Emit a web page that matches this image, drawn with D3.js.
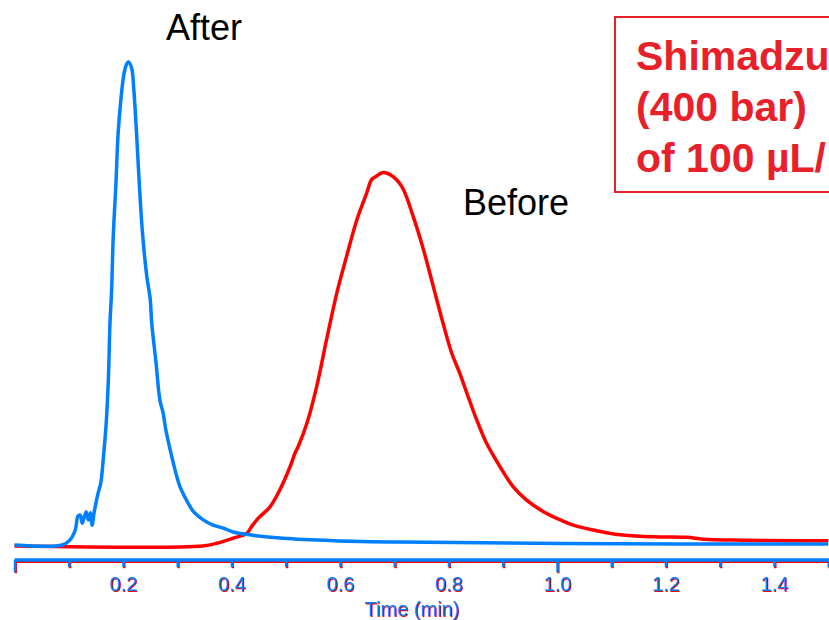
<!DOCTYPE html>
<html>
<head>
<meta charset="utf-8">
<script src="https://cdn.jsdelivr.net/npm/d3@7"></script>
<style>
  body { margin: 0; background: #fff; }
  svg { display: block; }
</style>
</head>
<body>
<div id="chart"></div>
<script>
// Chromatogrammes avant / après (temps en min, signal en unités arbitraires, pic "After" = 100)
var afterTime = [0.000, 0.088, 0.102, 0.112, 0.117, 0.121, 0.125, 0.132, 0.136, 0.140, 0.143, 0.147,
    0.154, 0.159, 0.164, 0.169, 0.173, 0.176, 0.179, 0.182, 0.187, 0.191, 0.196, 0.201, 0.206, 0.210,
    0.216, 0.220, 0.225, 0.230, 0.236, 0.244, 0.250, 0.253, 0.261, 0.268, 0.274, 0.279, 0.287, 0.296,
    0.305, 0.317, 0.330, 0.348, 0.366, 0.385, 0.403, 0.434, 0.495, 0.588, 0.711, 1.006, 1.500];
var afterSignal = [0.0, 0.0, 1.0, 3.1, 6.0, 6.2, 4.5, 6.9, 5.2, 6.7, 4.1, 6.9,
    10.7, 12.8, 18.3, 25.2, 34.2, 45.9, 52.8, 63.8, 74.9, 85.2, 92.1, 97.0, 99.4, 100.0,
    98.7, 94.2, 85.2, 74.9, 64.5, 55.5, 51.1, 45.9, 37.6, 30.0, 27.3, 23.8, 19.7, 15.5,
    12.1, 9.3, 6.9, 5.2, 4.1, 3.5, 2.7, 2.1, 1.4, 0.9, 0.6, 0.3, 0.2];

var beforeTime = [0.000, 0.347, 0.373, 0.403, 0.428, 0.437, 0.449, 0.471, 0.489, 0.508, 0.517, 0.523,
    0.539, 0.557, 0.575, 0.594, 0.612, 0.631, 0.649, 0.658, 0.665, 0.680, 0.695, 0.714, 0.735, 0.754,
    0.772, 0.790, 0.806, 0.821, 0.834, 0.852, 0.870, 0.895, 0.919, 0.944, 0.975, 1.006, 1.030, 1.067,
    1.116, 1.178, 1.239, 1.270, 1.343, 1.436, 1.500];
var beforeSignal = [-0.2, -0.2, 0.35, 1.4, 2.4, 3.8, 5.5, 7.9, 11.4, 16.2, 19.0, 20.4,
    25.2, 32.8, 42.4, 52.1, 59.7, 67.3, 72.8, 75.6, 76.2, 77.1, 76.5, 74.2, 68.0, 61.1,
    53.5, 45.9, 39.7, 35.5, 31.4, 25.9, 21.1, 16.2, 12.1, 9.3, 6.9, 5.2, 4.1, 3.1,
    2.1, 1.7, 1.6, 1.2, 1.0, 0.9, 0.9];

var tickValues = [0, 0.1, 0.2, 0.3, 0.4, 0.5, 0.6, 0.7, 0.8, 0.9, 1.0, 1.1, 1.2, 1.3, 1.4, 1.5];
var tickLabels = ["", "", "0.2", "", "0.4", "", "0.6", "", "0.8", "", "1.0", "", "1.2", "", "1.4", ""];

var boxLines = ["Shimadzu", "(400 bar)", "of 100 µL/"];

var width = 829, height = 620;
var BLUE = "#0080ff", RED = "#ff0000";

var svg = d3.select("#chart").append("svg")
    .attr("width", width)
    .attr("height", height);

svg.append("rect").attr("width", width).attr("height", height).attr("fill", "#fff");

var x = d3.scaleLinear().domain([0, 1.5]).range([14.5, 828.25]);
var y = d3.scaleLinear().domain([0, 100]).range([545, 62]);

var line = d3.line()
    .x(function (d) { return x(d[0]); })
    .y(function (d) { return y(d[1]); })
    .curve(d3.curveCatmullRom.alpha(0.5));

// courbes
svg.append("path")
    .datum(d3.zip(beforeTime, beforeSignal))
    .attr("d", line)
    .attr("fill", "none")
    .attr("stroke", RED)
    .attr("stroke-width", 3.5)
    .attr("stroke-linejoin", "round");

svg.append("path")
    .datum(d3.zip(afterTime, afterSignal))
    .attr("d", line)
    .attr("fill", "none")
    .attr("stroke", BLUE)
    .attr("stroke-width", 3.5)
    .attr("stroke-linejoin", "round");

// axe X : un rouge décalé dessous, un bleu dessus
function drawAxis(color, dx, dy) {
    var axis = d3.axisBottom(x)
        .tickValues(tickValues)
        .tickSizeOuter(0)
        .tickSize(7)
        .tickPadding(10)
        .tickFormat(function (d, i) { return tickLabels[i]; });

    var g = svg.append("g")
        .attr("transform", "translate(" + dx + "," + (560 + dy) + ")")
        .call(axis);

    g.select(".domain")
        .attr("stroke", color)
        .attr("stroke-width", 3.5)
        .attr("d", "M" + x(0) + ",0H" + (width + 5));
    g.selectAll(".tick line")
        .attr("stroke", color)
        .attr("stroke-width", 2.5)
        .attr("y2", function (d) { return (d === 0 || d === 1.0) ? 12 : 7; });
    g.selectAll(".tick text")
        .attr("fill", color)
        .style("font-family", "Arial, 'Liberation Sans', sans-serif")
        .style("font-size", "20px");

    g.append("text")
        .attr("x", 412)
        .attr("y", 56)
        .attr("text-anchor", "middle")
        .attr("fill", color)
        .style("font-family", "Arial, 'Liberation Sans', sans-serif")
        .style("font-size", "20px")
        .text("Time (min)");
}
drawAxis(RED, 0.8, 1.2);
drawAxis(BLUE, 0, 0);

// étiquettes des pics
svg.append("text")
    .attr("x", 166).attr("y", 40)
    .style("font-family", "Arial, 'Liberation Sans', sans-serif")
    .style("font-size", "36px")
    .attr("fill", "#000")
    .text("After");

svg.append("text")
    .attr("x", 463).attr("y", 215)
    .style("font-family", "Arial, 'Liberation Sans', sans-serif")
    .style("font-size", "36px")
    .attr("fill", "#000")
    .text("Before");

// encadré rouge
svg.append("rect")
    .attr("x", 615).attr("y", 17)
    .attr("width", 260).attr("height", 175)
    .attr("fill", "none")
    .attr("stroke", "#e8202a")
    .attr("stroke-width", 2);

svg.selectAll(".boxline")
    .data(boxLines)
    .enter()
    .append("text")
    .attr("class", "boxline")
    .attr("x", 636)
    .attr("y", function (d, i) { return 70 + i * 51; })
    .attr("fill", "#e8202a")
    .style("font-family", "Arial, 'Liberation Sans', sans-serif")
    .style("font-size", "41px")
    .style("font-weight", "bold")
    .text(function (d) { return d; });
</script>
</body>
</html>
